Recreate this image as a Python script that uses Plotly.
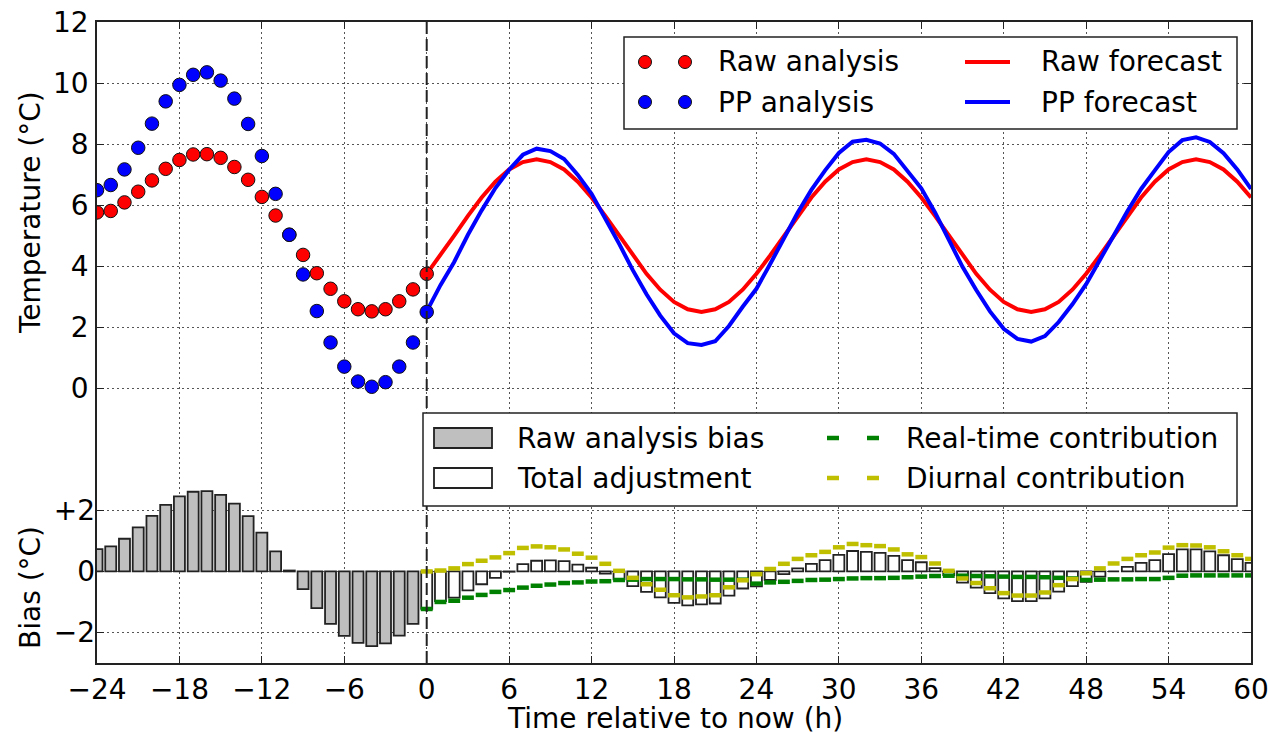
import plotly.graph_objects as go

# ---------------- data ----------------
analysis_hours = list(range(-24, 1))
raw_analysis = [5.76, 5.81, 6.09, 6.44, 6.81, 7.19, 7.48, 7.66, 7.67, 7.55, 7.25, 6.83, 6.27,
                5.66, 5.03, 4.37, 3.77, 3.26, 2.85, 2.59, 2.52, 2.59, 2.85, 3.24, 3.75]
pp_analysis = [6.49, 6.66, 7.17, 7.88, 8.67, 9.40, 9.94, 10.27, 10.35, 10.08, 9.49, 8.66, 7.61,
               6.37, 5.03, 3.73, 2.53, 1.50, 0.71, 0.22, 0.05, 0.20, 0.71, 1.50, 2.50]

bias_hours = list(range(-24, 0))
raw_analysis_bias = [0.73, 0.82, 1.07, 1.44, 1.82, 2.18, 2.46, 2.61, 2.63, 2.51, 2.22, 1.81,
                     1.27, 0.66, 0.03, -0.58, -1.20, -1.72, -2.11, -2.34, -2.45, -2.36, -2.10, -1.72]

forecast_hours = list(range(0, 61))
raw_forecast = [3.75, 4.35, 5.00, 5.65, 6.25, 6.77, 7.17, 7.41, 7.50, 7.41, 7.17, 6.77, 6.25,
                5.65, 5.00, 4.35, 3.75, 3.23, 2.83, 2.59, 2.50, 2.59, 2.83, 3.23, 3.75,
                4.35, 5.00, 5.65, 6.25, 6.77, 7.17, 7.41, 7.50, 7.41, 7.17, 6.77, 6.25,
                5.65, 5.00, 4.35, 3.75, 3.23, 2.83, 2.59, 2.50, 2.59, 2.83, 3.23, 3.75,
                4.35, 5.00, 5.65, 6.25, 6.77, 7.17, 7.41, 7.50, 7.41, 7.17, 6.77, 6.25]
pp_forecast = [2.52, 3.38, 4.14, 5.03, 5.83, 6.56, 7.16, 7.65, 7.85, 7.77, 7.51, 6.99, 6.37,
               5.58, 4.74, 3.87, 3.08, 2.38, 1.80, 1.48, 1.42, 1.54, 2.04, 2.67, 3.26,
               4.07, 4.91, 5.75, 6.50, 7.14, 7.71, 8.08, 8.14, 8.02, 7.68, 7.14, 6.55,
               5.76, 4.88, 3.98, 3.22, 2.52, 1.95, 1.62, 1.53, 1.71, 2.17, 2.75, 3.41,
               4.18, 5.00, 5.80, 6.53, 7.14, 7.74, 8.13, 8.22, 8.07, 7.70, 7.17, 6.53]
total_adjustment = [-1.23, -0.97, -0.86, -0.62, -0.42, -0.21, -0.01, 0.24, 0.35, 0.36, 0.34, 0.22, 0.12,
                    -0.07, -0.26, -0.48, -0.67, -0.85, -1.03, -1.11, -1.08, -1.05, -0.79, -0.56, -0.49,
                    -0.28, -0.09, 0.10, 0.25, 0.37, 0.54, 0.67, 0.64, 0.61, 0.51, 0.37, 0.30,
                    0.11, -0.12, -0.37, -0.53, -0.71, -0.88, -0.97, -0.97, -0.88, -0.66, -0.48, -0.34,
                    -0.17, 0.00, 0.15, 0.28, 0.37, 0.57, 0.72, 0.72, 0.66, 0.53, 0.40, 0.28]
realtime_contribution = [-1.23, -1.00, -0.96, -0.86, -0.77, -0.67, -0.61, -0.53, -0.47, -0.43, -0.38, -0.36, -0.33,
                         -0.32, -0.28, -0.27, -0.25, -0.25, -0.25, -0.26, -0.26, -0.27, -0.27, -0.27, -0.40,
                         -0.36, -0.34, -0.31, -0.28, -0.27, -0.25, -0.23, -0.22, -0.22, -0.21, -0.19, -0.17,
                         -0.15, -0.14, -0.14, -0.15, -0.16, -0.17, -0.18, -0.18, -0.19, -0.21, -0.23, -0.28,
                         -0.27, -0.26, -0.26, -0.25, -0.25, -0.21, -0.14, -0.13, -0.13, -0.13, -0.13, -0.13]
diurnal_contribution = [0.00, 0.03, 0.10, 0.24, 0.35, 0.46, 0.60, 0.77, 0.82, 0.79, 0.72, 0.58, 0.45,
                        0.25, 0.02, -0.21, -0.42, -0.60, -0.78, -0.85, -0.82, -0.78, -0.52, -0.29, -0.09,
                        0.08, 0.25, 0.41, 0.53, 0.64, 0.79, 0.90, 0.86, 0.83, 0.72, 0.56, 0.47,
                        0.26, 0.02, -0.23, -0.38, -0.55, -0.71, -0.79, -0.79, -0.69, -0.45, -0.25, -0.06,
                        0.10, 0.26, 0.41, 0.53, 0.62, 0.78, 0.86, 0.85, 0.79, 0.66, 0.53, 0.41]

x_tick_values = list(range(-24, 61, 6))
temp_tick_values = [0, 2, 4, 6, 8, 10, 12]
bias_tick_values = [-2, 0, 2]
bias_tick_text = ["\u22122", "0", "+2"]
now_hour = 0

# ---------------- style / layout helpers ----------------
FONT = "DejaVu Sans"
FS = 28
W, H = 1268, 732
L, R, T, B = 97, 17, 22, 69
PLOT_L, PLOT_T, PLOT_W, PLOT_H = L, T, W - L - R, H - T - B


def px(x):
    return (x - PLOT_L) / PLOT_W


def py(y):
    return (PLOT_T + PLOT_H - y) / PLOT_H


fig = go.Figure()

# bias bars (lower panel, secondary overlaid axis)
fig.add_trace(go.Bar(x=bias_hours, y=raw_analysis_bias, width=0.8, yaxis="y2",
                     marker=dict(color="#bfbfbf", line=dict(color="#222222", width=1.8)),
                     showlegend=False, name="Raw analysis bias"))
fig.add_trace(go.Bar(x=forecast_hours, y=total_adjustment, width=0.8, yaxis="y2",
                     marker=dict(color="white", line=dict(color="#222222", width=1.8)),
                     showlegend=False, name="Total adjustment"))
fig.add_trace(go.Scatter(x=forecast_hours, y=realtime_contribution, mode="markers", yaxis="y2",
                         marker=dict(symbol="line-ew", size=8.5, color="#008000",
                                     line=dict(color="#008000", width=4.5)),
                         showlegend=False, name="Real-time contribution"))
fig.add_trace(go.Scatter(x=forecast_hours, y=diurnal_contribution, mode="markers", yaxis="y2",
                         marker=dict(symbol="line-ew", size=8.5, color="#bfbf00",
                                     line=dict(color="#bfbf00", width=4.5)),
                         showlegend=False, name="Diurnal contribution"))

# temperature panel
fig.add_trace(go.Scatter(x=forecast_hours, y=raw_forecast, mode="lines",
                         line=dict(color="#ff0000", width=4), showlegend=False, name="Raw forecast"))
fig.add_trace(go.Scatter(x=forecast_hours, y=pp_forecast, mode="lines",
                         line=dict(color="#0000ff", width=4), showlegend=False, name="PP forecast"))
fig.add_trace(go.Scatter(x=analysis_hours, y=raw_analysis, mode="markers",
                         marker=dict(color="#ff0000", size=13.5, line=dict(color="#111111", width=1)),
                         showlegend=False, name="Raw analysis"))
fig.add_trace(go.Scatter(x=analysis_hours, y=pp_analysis, mode="markers",
                         marker=dict(color="#0000ff", size=13.5, line=dict(color="#111111", width=1)),
                         showlegend=False, name="PP analysis"))

grid = dict(showgrid=True, gridcolor="#555555", gridwidth=1, griddash="2px,3px")
axis_common = dict(ticks="inside", ticklen=7, tickwidth=1, tickcolor="#222", zeroline=False,
                   ticklabelstandoff=1, ticklabeloverflow="allow", automargin=False,
                   tickmode="array", **grid)

fig.update_layout(
    width=W, height=H,
    margin=dict(l=L, r=R, t=T, b=B, autoexpand=False),
    paper_bgcolor="white", plot_bgcolor="white",
    font=dict(family=FONT, size=FS, color="black"),
    barmode="overlay",
    xaxis=dict(range=[-24, 60], tickvals=x_tick_values,
               showline=True, linecolor="#222", linewidth=1.5, mirror="ticks", **axis_common),
    yaxis=dict(range=[-9, 12], tickvals=temp_tick_values,
               showline=True, linecolor="#222", linewidth=1.5, mirror="ticks", **axis_common),
    yaxis2=dict(range=[-3, 18], overlaying="y", side="left",
                tickvals=bias_tick_values, ticktext=bias_tick_text,
                showline=False, mirror="ticks", **axis_common),
)

shapes = []
# "now" line
shapes.append(dict(type="line", xref="x", yref="paper", x0=now_hour, x1=now_hour, y0=0, y1=1,
                   line=dict(color="#222", width=2, dash="12px,5px"), layer="above"))

# legend boxes
shapes.append(dict(type="rect", xref="paper", yref="paper", x0=px(624), x1=px(1237), y0=py(129), y1=py(37),
                   line=dict(color="#222", width=1.5), fillcolor="white", layer="above"))
shapes.append(dict(type="rect", xref="paper", yref="paper", x0=px(423), x1=px(1237), y0=py(506), y1=py(413),
                   line=dict(color="#222", width=1.5), fillcolor="white", layer="above"))

r = 6.5
for cx in (645, 685):
    for cy, col in ((62, "#ff0000"), (102, "#0000ff")):
        shapes.append(dict(type="circle", xref="paper", yref="paper",
                           x0=px(cx - r), x1=px(cx + r), y0=py(cy + r), y1=py(cy - r),
                           fillcolor=col, line=dict(color="#111", width=1), layer="above"))
for cy, col in ((62, "#ff0000"), (102, "#0000ff")):
    shapes.append(dict(type="line", xref="paper", yref="paper", x0=px(965), x1=px(1010), y0=py(cy), y1=py(cy),
                       line=dict(color=col, width=4), layer="above"))
for cy, col in ((438, "#bfbfbf"), (478, "white")):
    shapes.append(dict(type="rect", xref="paper", yref="paper", x0=px(434), x1=px(492), y0=py(cy + 10), y1=py(cy - 10),
                       fillcolor=col, line=dict(color="#222", width=1.8), layer="above"))
for cx in (833, 873):
    for cy, col in ((438, "#008000"), (478, "#bfbf00")):
        shapes.append(dict(type="line", xref="paper", yref="paper", x0=px(cx - 6), x1=px(cx + 6), y0=py(cy), y1=py(cy),
                           line=dict(color=col, width=4.5), layer="above"))

annotations = []
for text, x, y in (("Raw analysis", 716, 62), ("PP analysis", 716, 102),
                   ("Raw forecast", 1039, 62), ("PP forecast", 1039, 102),
                   ("Raw analysis bias", 515, 438), ("Total adjustment", 515, 478),
                   ("Real-time contribution", 904, 438), ("Diurnal contribution", 904, 478)):
    annotations.append(dict(text=text, xref="paper", yref="paper", x=px(x), y=py(y),
                            xanchor="left", yanchor="middle", showarrow=False,
                            font=dict(family=FONT, size=FS, color="black")))

annotations.append(dict(text="Temperature (\u00b0C)", xref="paper", yref="paper", x=px(30), y=py(213),
                        xanchor="center", yanchor="middle", textangle=-90, showarrow=False,
                        font=dict(family=FONT, size=FS, color="black")))
annotations.append(dict(text="Bias (\u00b0C)", xref="paper", yref="paper", x=px(30), y=py(588),
                        xanchor="center", yanchor="middle", textangle=-90, showarrow=False,
                        font=dict(family=FONT, size=FS, color="black")))
annotations.append(dict(text="Time relative to now (h)", xref="paper", yref="paper", x=px(675), y=py(718),
                        xanchor="center", yanchor="middle", showarrow=False,
                        font=dict(family=FONT, size=FS, color="black")))

fig.update_layout(shapes=shapes, annotations=annotations)

# remove the page's default body margin so the 1268x732 figure fills the window exactly
fig.write_html("out.html", config={"displayModeBar": False},
               post_script="document.body.style.margin='0';document.body.style.overflow='hidden';")
